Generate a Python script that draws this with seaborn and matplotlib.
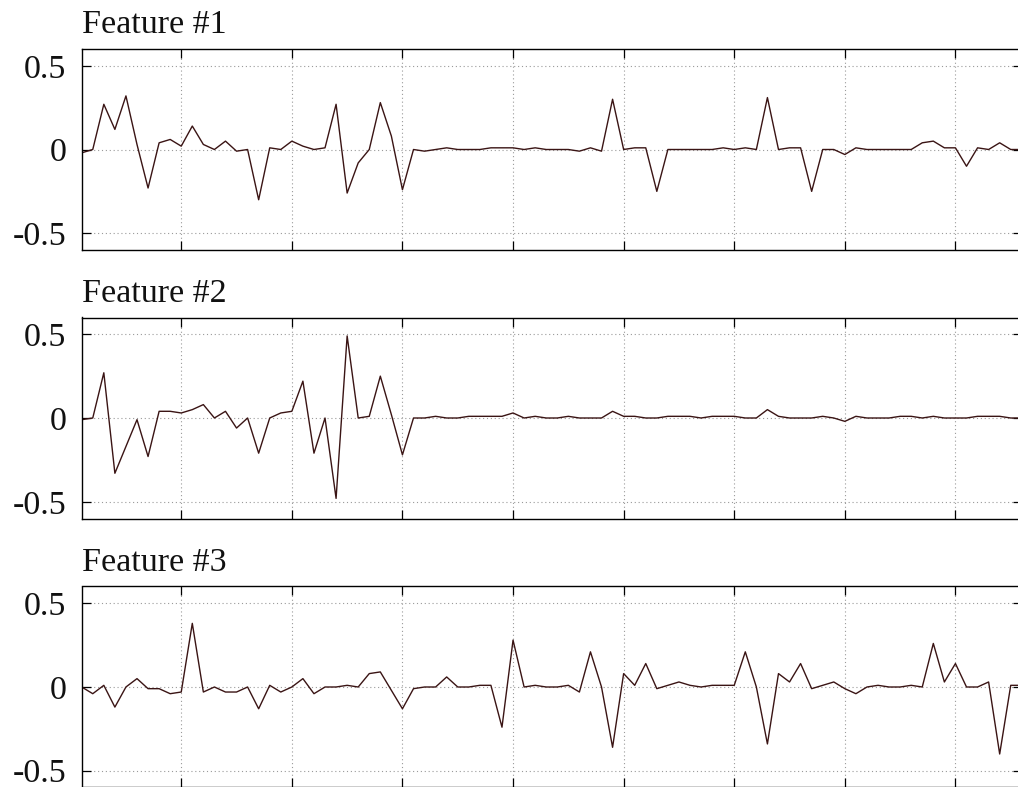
import numpy as np
import pandas as pd
import matplotlib
matplotlib.use("Agg")
import matplotlib.pyplot as plt
import seaborn as sns

# ---- data ----
feature1 = [-0.02, 0.0, 0.27, 0.12, 0.32, 0.03, -0.23, 0.04, 0.06, 0.02,
            0.14, 0.03, 0.0, 0.05, -0.01, 0.0, -0.30, 0.01, 0.0, 0.05,
            0.02, 0.0, 0.01, 0.27, -0.26, -0.08, 0.0, 0.28, 0.08, -0.24,
            0.0, -0.01, 0.0, 0.01, 0.0, 0.0, 0.0, 0.01, 0.01, 0.01,
            0.0, 0.01, 0.0, 0.0, 0.0, -0.01, 0.01, -0.01, 0.30, 0.0,
            0.01, 0.01, -0.25, 0.0, 0.0, 0.0, 0.0, 0.0, 0.01, 0.0,
            0.01, 0.0, 0.31, 0.0, 0.01, 0.01, -0.25, 0.0, 0.0, -0.03,
            0.01, 0.0, 0.0, 0.0, 0.0, 0.0, 0.04, 0.05, 0.01, 0.01,
            -0.10, 0.01, 0.0, 0.04, 0.0, 0.0]
feature2 = [-0.01, 0.0, 0.27, -0.33, -0.17, -0.01, -0.23, 0.04, 0.04, 0.03,
            0.05, 0.08, 0.0, 0.04, -0.06, 0.0, -0.21, 0.0, 0.03, 0.04,
            0.22, -0.21, 0.0, -0.48, 0.49, 0.0, 0.01, 0.25, 0.02, -0.22,
            0.0, 0.0, 0.01, 0.0, 0.0, 0.01, 0.01, 0.01, 0.01, 0.03,
            0.0, 0.01, 0.0, 0.0, 0.01, 0.0, 0.0, 0.0, 0.04, 0.01,
            0.01, 0.0, 0.0, 0.01, 0.01, 0.01, 0.0, 0.01, 0.01, 0.01,
            0.0, 0.0, 0.05, 0.01, 0.0, 0.0, 0.0, 0.01, 0.0, -0.02,
            0.01, 0.0, 0.0, 0.0, 0.01, 0.01, 0.0, 0.01, 0.0, 0.0,
            0.0, 0.01, 0.01, 0.01, 0.0, 0.0]
feature3 = [0.0, -0.04, 0.01, -0.12, 0.0, 0.05, -0.01, -0.01, -0.04, -0.03,
            0.38, -0.03, 0.0, -0.03, -0.03, 0.0, -0.13, 0.01, -0.03, 0.0,
            0.05, -0.04, 0.0, 0.0, 0.01, 0.0, 0.08, 0.09, -0.02, -0.13,
            -0.01, 0.0, 0.0, 0.06, 0.0, 0.0, 0.01, 0.01, -0.24, 0.28,
            0.0, 0.01, 0.0, 0.0, 0.01, -0.03, 0.21, 0.0, -0.36, 0.08,
            0.01, 0.14, -0.01, 0.01, 0.03, 0.01, 0.0, 0.01, 0.01, 0.01,
            0.21, 0.0, -0.34, 0.08, 0.03, 0.14, -0.01, 0.01, 0.03, -0.01,
            -0.04, 0.0, 0.01, 0.0, 0.0, 0.01, 0.0, 0.26, 0.03, 0.14,
            0.0, 0.0, 0.03, -0.40, 0.01, 0.01]
titles = ["Feature #1", "Feature #2", "Feature #3"]
ytick_values = [-0.5, 0, 0.5]
ytick_labels = ["-0.5", "0", "0.5"]
xtick_values = [10, 20, 30, 40, 50, 60, 70, 80]

series = [feature1, feature2, feature3]

# ---- style ----
sns.set_theme(style="white")
plt.rcParams["font.family"] = ["Liberation Serif", "DejaVu Serif"]
plt.rcParams["axes.unicode_minus"] = False

W, H = 1018, 787
fig = plt.figure(figsize=(W / 100, H / 100), dpi=100)

left_px = 81.7
px_per_unit = 11.06
xmin, xmax = 1, 86
width_px = (xmax - xmin) * px_per_unit
ax_h_px = 201
tops_px = [49, 317.5, 586.5]

line_color = "#3a1414"

for k, (vals, title, top) in enumerate(zip(series, titles, tops_px)):
    ax = fig.add_axes([left_px / W, 1 - (top + ax_h_px) / H,
                       width_px / W, ax_h_px / H])
    df = pd.DataFrame({"x": np.arange(1, len(vals) + 1), "y": vals})
    sns.lineplot(data=df, x="x", y="y", ax=ax, color=line_color,
                 linewidth=1.0, estimator=None)
    ax.set_xlim(xmin, xmax)
    ax.set_ylim(-0.6, 0.6)
    ax.set_xticks(xtick_values)
    ax.set_xticklabels([])
    ax.set_yticks(ytick_values)
    ax.set_yticklabels(ytick_labels)
    ax.set_xlabel("")
    ax.set_ylabel("")
    ax.tick_params(axis="both", which="both", direction="in",
                   length=6.5, width=0.9, color="black",
                   top=True, right=True, bottom=True, left=True)
    ax.tick_params(axis="y", labelsize=24.5, pad=11, labelcolor="#111111")
    ax.grid(True, linestyle=(0, (1, 2.5)), color="#9a9a9a", linewidth=0.8)
    for s in ax.spines.values():
        s.set_visible(True)
        s.set_color("black")
        s.set_linewidth(1.0)
    ax.set_title(title, loc="left", fontsize=24.5, pad=11.5, color="#111111")
    ax.set_facecolor("white")

fig.savefig("out.png", dpi=100, facecolor="white")
